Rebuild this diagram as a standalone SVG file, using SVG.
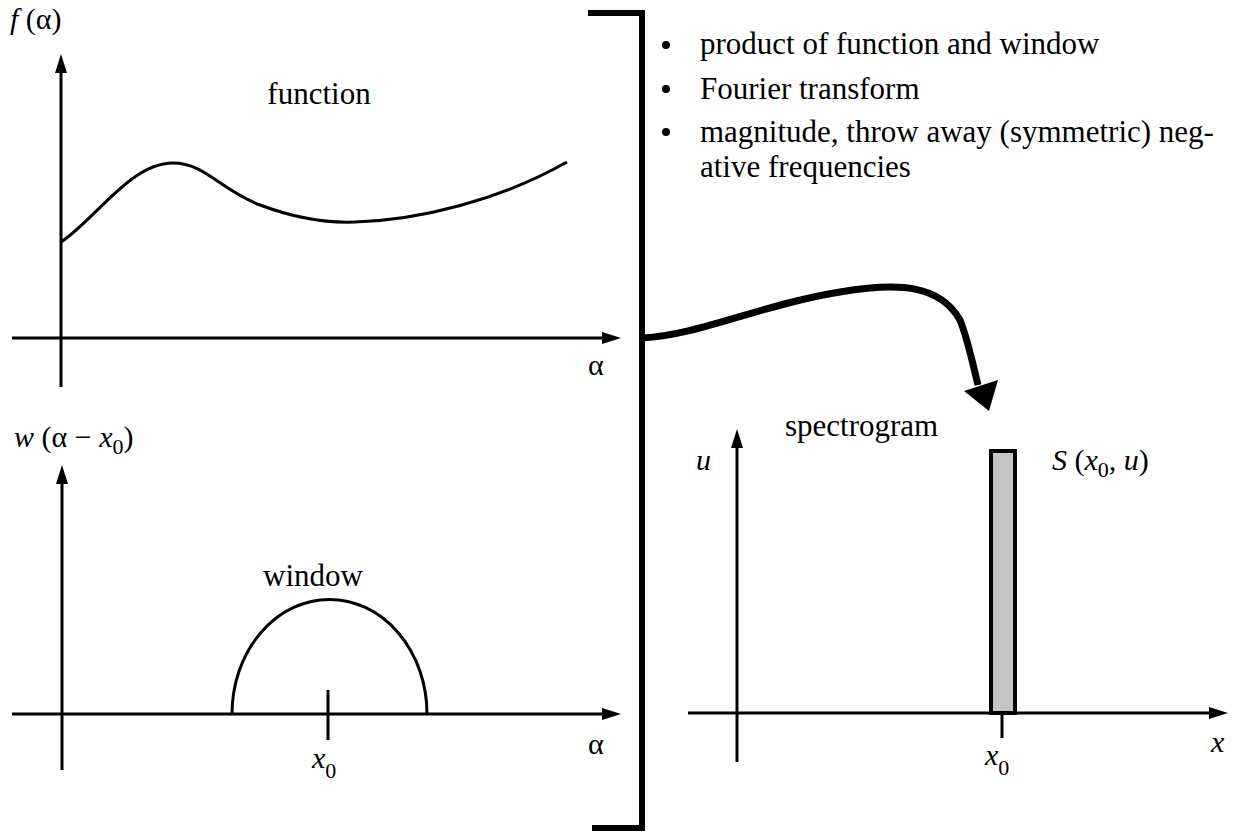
<svg xmlns="http://www.w3.org/2000/svg" width="1247" height="838" viewBox="0 0 1247 838">
<style>
.ax{stroke:#000;stroke-width:3;fill:none}
.cv{stroke:#000;stroke-width:3;fill:none}
.ah{fill:#000}
.t{font-family:"Liberation Serif",serif;font-size:31px;fill:#000}
.m{font-family:"Liberation Serif",serif;font-size:30px;fill:#000}
.i{font-style:italic}
.sub{font-size:22px}
</style>
<rect width="1247" height="838" fill="#fff"/>
<g id="plot-function">
<line class="ax" x1="61" y1="387" x2="61" y2="70"/>
<polygon class="ah" points="61,54 55,73 67,73"/>
<line class="ax" x1="12" y1="338" x2="605" y2="338"/>
<polygon class="ah" points="621,338 602,332 602,344"/>
<path class="cv" d="M61,242 C95,220 130,163 173,163 C205,163 220,190 260,205 C300,220 330,223 355,222 C420,220 500,200 567,162"/>
<text class="m" x="10" y="29"><tspan class="i">f</tspan> (α)</text>
<text class="t" x="319" y="104" text-anchor="middle">function</text>
<text class="m" x="588" y="375">α</text>
</g>
<g id="plot-window">
<line class="ax" x1="62" y1="770" x2="62" y2="482"/>
<polygon class="ah" points="62,465 56,484 68,484"/>
<line class="ax" x1="12" y1="714" x2="605" y2="714"/>
<polygon class="ah" points="621,714 602,708 602,720"/>
<path class="cv" d="M232,714 A97,114 0 0 1 427,714"/>
<line class="ax" x1="328" y1="690" x2="328" y2="740"/>
<text class="m" x="14" y="447"><tspan class="i">w</tspan> (α − <tspan class="i">x</tspan><tspan class="sub" dy="7">0</tspan><tspan dy="-7">)</tspan></text>
<text class="t" x="313" y="586" text-anchor="middle">window</text>
<text class="m" x="312" y="768"><tspan class="i">x</tspan><tspan class="sub" dy="10">0</tspan></text>
<text class="m" x="588" y="754">α</text>
</g>
<g id="steps">
<path d="M588,13 H642 V828 H592" stroke="#000" stroke-width="6" fill="none"/>
<circle cx="666" cy="45" r="4"/>
<circle cx="666" cy="89" r="4"/>
<circle cx="666" cy="132" r="4"/>
<text class="t" x="700" y="54">product of function and window</text>
<text class="t" x="700" y="99">Fourier transform</text>
<text class="t" x="700" y="142">magnitude, throw away (symmetric) neg-</text>
<text class="t" x="700" y="177">ative frequencies</text>
</g>
<g id="plot-spectrogram">
<line class="ax" x1="737" y1="762" x2="737" y2="446"/>
<polygon class="ah" points="737,429 731,448 743,448"/>
<line class="ax" x1="688" y1="713" x2="1212" y2="713"/>
<polygon class="ah" points="1228,713 1209,707 1209,719"/>
<rect x="991" y="451" width="24" height="262" fill="#c4c4c4" stroke="#000" stroke-width="4"/>
<line class="ax" x1="1002" y1="713" x2="1002" y2="738"/>
<text class="t" x="785" y="436">spectrogram</text>
<text class="m i" x="696" y="470">u</text>
<text class="m" x="1052" y="470"><tspan class="i">S</tspan> (<tspan class="i">x</tspan><tspan class="sub" dy="7">0</tspan><tspan dy="-7">, </tspan><tspan class="i">u</tspan>)</text>
<text class="m" x="985" y="765"><tspan class="i">x</tspan><tspan class="sub" dy="10">0</tspan></text>
<text class="m i" x="1211" y="752">x</text>
</g>
<g id="connectors">
<path d="M642,338 C700,335 760,305 840,292 C900,282 940,285 960,320 C968,340 973,365 978,385" stroke="#000" stroke-width="7" fill="none"/>
<polygon class="ah" points="989,411 964,391 998,380"/>
</g>
</svg>
